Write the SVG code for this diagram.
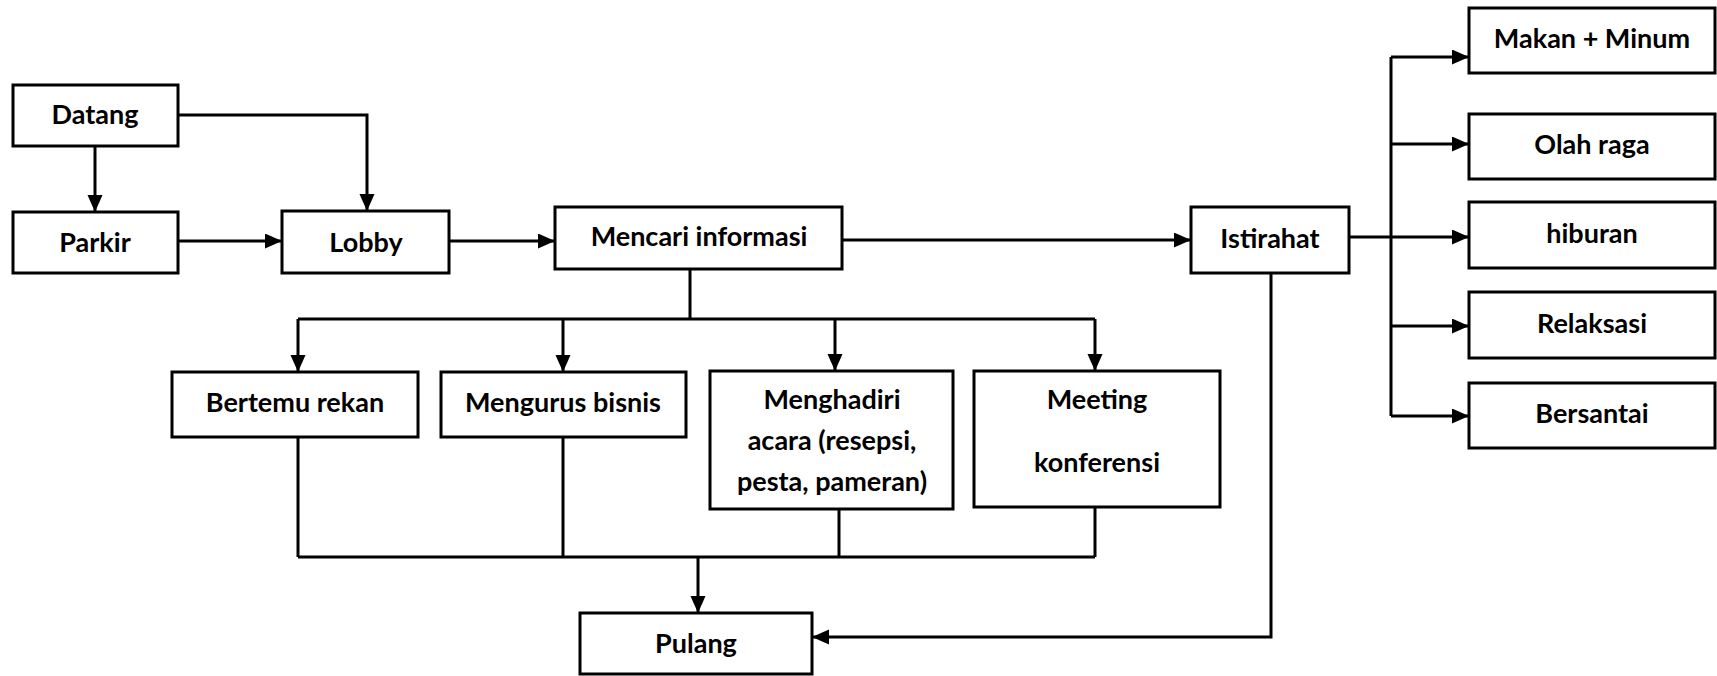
<svg xmlns="http://www.w3.org/2000/svg" width="1717" height="676" viewBox="0 0 1717 676">
  <style>
    .box { fill: #ffffff; stroke: #000000; stroke-width: 3; }
    .lbl { font-family: Lato, "Open Sans", "Liberation Sans", sans-serif; font-weight: 700; font-size: 27px; fill: #000000; text-anchor: middle; }
    .wire { fill: none; stroke: #000000; stroke-width: 3; }
    .arrow { fill: none; stroke: #000000; stroke-width: 3; marker-end: url(#head); }
  </style>
  <defs>
    <marker id="head" markerUnits="userSpaceOnUse" markerWidth="18" markerHeight="16" refX="17" refY="7.5" orient="auto">
      <path d="M0,0 L17,7.5 L0,15 Z" fill="#000000"/>
    </marker>
  </defs>
  <rect width="1717" height="676" fill="#ffffff"/>

  <!-- connectors -->
  <g id="connectors">
    <path class="arrow" d="M95,146 V212"/>
    <path class="arrow" d="M178,115 H367 V211"/>
    <path class="arrow" d="M178,241 H282"/>
    <path class="arrow" d="M449,241 H555"/>
    <path class="arrow" d="M842,240 H1191"/>
    <!-- split below Mencari informasi -->
    <path class="wire" d="M690,269 V319"/>
    <path class="wire" d="M298,319 H1095"/>
    <path class="arrow" d="M298,319 V372"/>
    <path class="arrow" d="M563,319 V372"/>
    <path class="arrow" d="M835,319 V371"/>
    <path class="arrow" d="M1095,319 V371"/>
    <!-- merge into Pulang -->
    <path class="wire" d="M298,437 V557"/>
    <path class="wire" d="M563,437 V557"/>
    <path class="wire" d="M839,509 V557"/>
    <path class="wire" d="M1095,507 V557"/>
    <path class="wire" d="M298,557 H1095"/>
    <path class="arrow" d="M698,557 V613"/>
    <!-- Istirahat to Pulang -->
    <path class="arrow" d="M1271,273 V637 H812"/>
    <!-- Istirahat fan-out -->
    <path class="wire" d="M1349,237 H1391"/>
    <path class="wire" d="M1391,57 V416"/>
    <path class="arrow" d="M1391,57 H1469"/>
    <path class="arrow" d="M1391,144 H1469"/>
    <path class="arrow" d="M1391,237 H1469"/>
    <path class="arrow" d="M1391,326 H1469"/>
    <path class="arrow" d="M1391,416 H1469"/>
  </g>

  <g id="datang">
    <rect class="box" x="13" y="85" width="165" height="61"/>
    <text class="lbl" x="95" y="124">Datang</text>
  </g>
  <g id="parkir">
    <rect class="box" x="13" y="212" width="165" height="61"/>
    <text class="lbl" x="95" y="252">Parkir</text>
  </g>
  <g id="lobby">
    <rect class="box" x="282" y="211" width="167" height="62"/>
    <text class="lbl" x="366" y="252">Lobby</text>
  </g>
  <g id="mencari-informasi">
    <rect class="box" x="555" y="207" width="287" height="62"/>
    <text class="lbl" x="699" y="246">Mencari informasi</text>
  </g>
  <g id="istirahat">
    <rect class="box" x="1191" y="207" width="158" height="66"/>
    <text class="lbl" x="1270" y="248">Istirahat</text>
  </g>
  <g id="makan-minum">
    <rect class="box" x="1469" y="8" width="246" height="65"/>
    <text class="lbl" x="1592" y="48">Makan + Minum</text>
  </g>
  <g id="olah-raga">
    <rect class="box" x="1469" y="114" width="246" height="65"/>
    <text class="lbl" x="1592" y="154">Olah raga</text>
  </g>
  <g id="hiburan">
    <rect class="box" x="1469" y="202" width="246" height="66"/>
    <text class="lbl" x="1592" y="243">hiburan</text>
  </g>
  <g id="relaksasi">
    <rect class="box" x="1469" y="292" width="246" height="66"/>
    <text class="lbl" x="1592" y="333">Relaksasi</text>
  </g>
  <g id="bersantai">
    <rect class="box" x="1469" y="383" width="246" height="65"/>
    <text class="lbl" x="1592" y="423">Bersantai</text>
  </g>
  <g id="bertemu-rekan">
    <rect class="box" x="172" y="372" width="246" height="65"/>
    <text class="lbl" x="295" y="412">Bertemu rekan</text>
  </g>
  <g id="mengurus-bisnis">
    <rect class="box" x="441" y="372" width="245" height="65"/>
    <text class="lbl" x="563" y="412">Mengurus bisnis</text>
  </g>
  <g id="menghadiri-acara">
    <rect class="box" x="710" y="371" width="243" height="138"/>
    <text class="lbl" x="832" y="409">Menghadiri</text>
    <text class="lbl" x="832" y="450">acara (resepsi,</text>
    <text class="lbl" x="832" y="491">pesta, pameran)</text>
  </g>
  <g id="meeting-konferensi">
    <rect class="box" x="974" y="371" width="246" height="136"/>
    <text class="lbl" x="1097" y="409">Meeting</text>
    <text class="lbl" x="1097" y="472">konferensi</text>
  </g>
  <g id="pulang">
    <rect class="box" x="580" y="613" width="232" height="61"/>
    <text class="lbl" x="696" y="653">Pulang</text>
  </g>
</svg>
